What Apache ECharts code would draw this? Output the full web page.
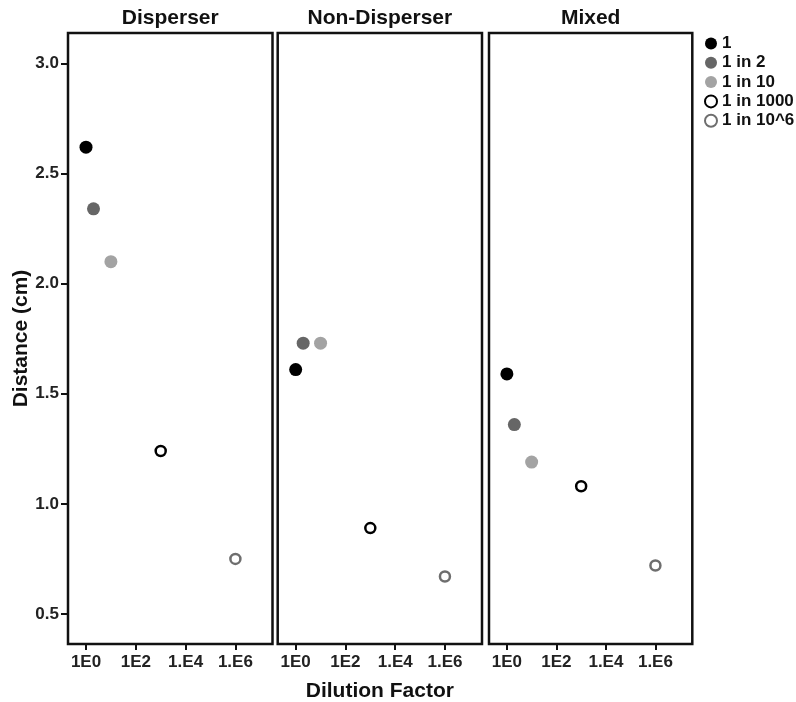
<!DOCTYPE html>
<html>
<head>
<meta charset="utf-8">
<script src="https://cdn.jsdelivr.net/npm/echarts@6/dist/echarts.min.js"></script>
<style>
  html, body { margin: 0; padding: 0; background: #fff; }
  #chart { width: 796px; height: 702px; }
</style>
</head>
<body>
<div id="chart"></div>
<script>
// ---- data ----
var panelTitles = ['Disperser', 'Non-Disperser', 'Mixed'];
var seriesNames = ['1', '1 in 2', '1 in 10', '1 in 1000', '1 in 10^6'];
var dilutions = [1, 2, 10, 1000, 1000000];
var disperser = [2.62, 2.34, 2.10, 1.24, 0.75];
var nonDisperser = [1.61, 1.73, 1.73, 0.89, 0.67];
var mixed = [1.59, 1.36, 1.19, 1.08, 0.72];
var xTickValues = [1, 100, 10000, 1000000];
var xTickLabels = ['1E0', '1E2', '1.E4', '1.E6'];
var yTickValues = [0.5, 1.0, 1.5, 2.0, 2.5, 3.0];

var panelData = [disperser, nonDisperser, mixed];

// ---- styling ----
var FONT = 'Liberation Sans, Arial, Helvetica, sans-serif';
var markerStyles = [
  { color: '#000000', borderColor: '#000000', borderWidth: 0, size: 13 },
  { color: '#666666', borderColor: '#666666', borderWidth: 0, size: 13 },
  { color: '#a3a3a3', borderColor: '#a3a3a3', borderWidth: 0, size: 13 },
  { color: '#ffffff', borderColor: '#000000', borderWidth: 2.5, size: 10 },
  { color: '#ffffff', borderColor: '#6e6e6e', borderWidth: 2.5, size: 10 }
];
var grids = [
  { left: 68, top: 33, width: 204.5, height: 611 },
  { left: 277.7, top: 33, width: 204.3, height: 611 },
  { left: 489, top: 33, width: 203.3, height: 611 }
];
var yMin = 0.3636, yMax = 3.1386;
var xMin = Math.pow(10, -0.723), xMax = Math.pow(10, 7.49);

var option = {
  animation: false,
  backgroundColor: '#ffffff',
  title: panelTitles.map(function (t, i) {
    return {
      text: t,
      left: grids[i].left + grids[i].width / 2,
      top: 8,
      textAlign: 'center',
      padding: 0,
      textStyle: { fontFamily: FONT, fontWeight: 'bold', fontSize: 21, color: '#111' }
    };
  }),
  legend: {
    orient: 'vertical',
    left: 704,
    top: 35,
    padding: 0,
    itemWidth: 12,
    itemHeight: 12,
    itemGap: 2.3,
    icon: 'circle',
    textStyle: { fontFamily: FONT, fontWeight: 'bold', fontSize: 17, color: '#111' },
    data: seriesNames
  },
  grid: grids.map(function (g) {
    return {
      left: g.left, top: g.top, width: g.width, height: g.height,
      show: true, borderColor: '#111', borderWidth: 2.5, backgroundColor: 'transparent',
      containLabel: false,
      outerBoundsMode: 'none'
    };
  }),
  xAxis: grids.map(function (g, i) {
    return {
      type: 'log',
      logBase: 10,
      gridIndex: i,
      min: xMin,
      max: xMax,
      name: i === 1 ? 'Dilution Factor' : '',
      nameLocation: 'middle',
      nameGap: 37,
      nameTextStyle: { fontFamily: FONT, fontWeight: 'bold', fontSize: 21, color: '#111' },
      axisLine: { show: false },
      splitLine: { show: false },
      minorTick: { show: false },
      axisTick: { show: true, length: 6, lineStyle: { color: '#111', width: 2 }, customValues: xTickValues },
      axisLabel: {
        customValues: xTickValues,
        margin: 10,
        fontFamily: FONT, fontWeight: 'bold', fontSize: 17, color: '#222',
        formatter: function (v) {
          for (var k = 0; k < xTickValues.length; k++) {
            if (Math.abs(Math.log10(v) - Math.log10(xTickValues[k])) < 1e-6) return xTickLabels[k];
          }
          return '';
        }
      }
    };
  }),
  yAxis: grids.map(function (g, i) {
    return {
      type: 'value',
      gridIndex: i,
      min: yMin,
      max: yMax,
      name: i === 0 ? 'Distance (cm)' : '',
      nameLocation: 'middle',
      nameGap: 36,
      nameTextStyle: { fontFamily: FONT, fontWeight: 'bold', fontSize: 21, color: '#111' },
      axisLine: { show: false },
      splitLine: { show: false },
      axisTick: { show: i === 0, length: 7, lineStyle: { color: '#111', width: 2 }, customValues: yTickValues },
      axisLabel: {
        show: i === 0,
        customValues: yTickValues,
        margin: 9,
        fontFamily: FONT, fontWeight: 'bold', fontSize: 17, color: '#222',
        formatter: function (v) { return v.toFixed(1); }
      }
    };
  }),
  series: []
};

panelData.forEach(function (vals, p) {
  seriesNames.forEach(function (nm, s) {
    var st = markerStyles[s];
    option.series.push({
      name: nm,
      type: 'scatter',
      xAxisIndex: p,
      yAxisIndex: p,
      symbol: 'circle',
      symbolSize: st.size,
      itemStyle: { color: st.color, borderColor: st.borderColor, borderWidth: st.borderWidth, opacity: 1 },
      emphasis: { disabled: true },
      data: [[dilutions[s], vals[s]]]
    });
  });
});

var chart = echarts.init(document.getElementById('chart'), null, { renderer: 'canvas' });
chart.setOption(option);
</script>
</body>
</html>
